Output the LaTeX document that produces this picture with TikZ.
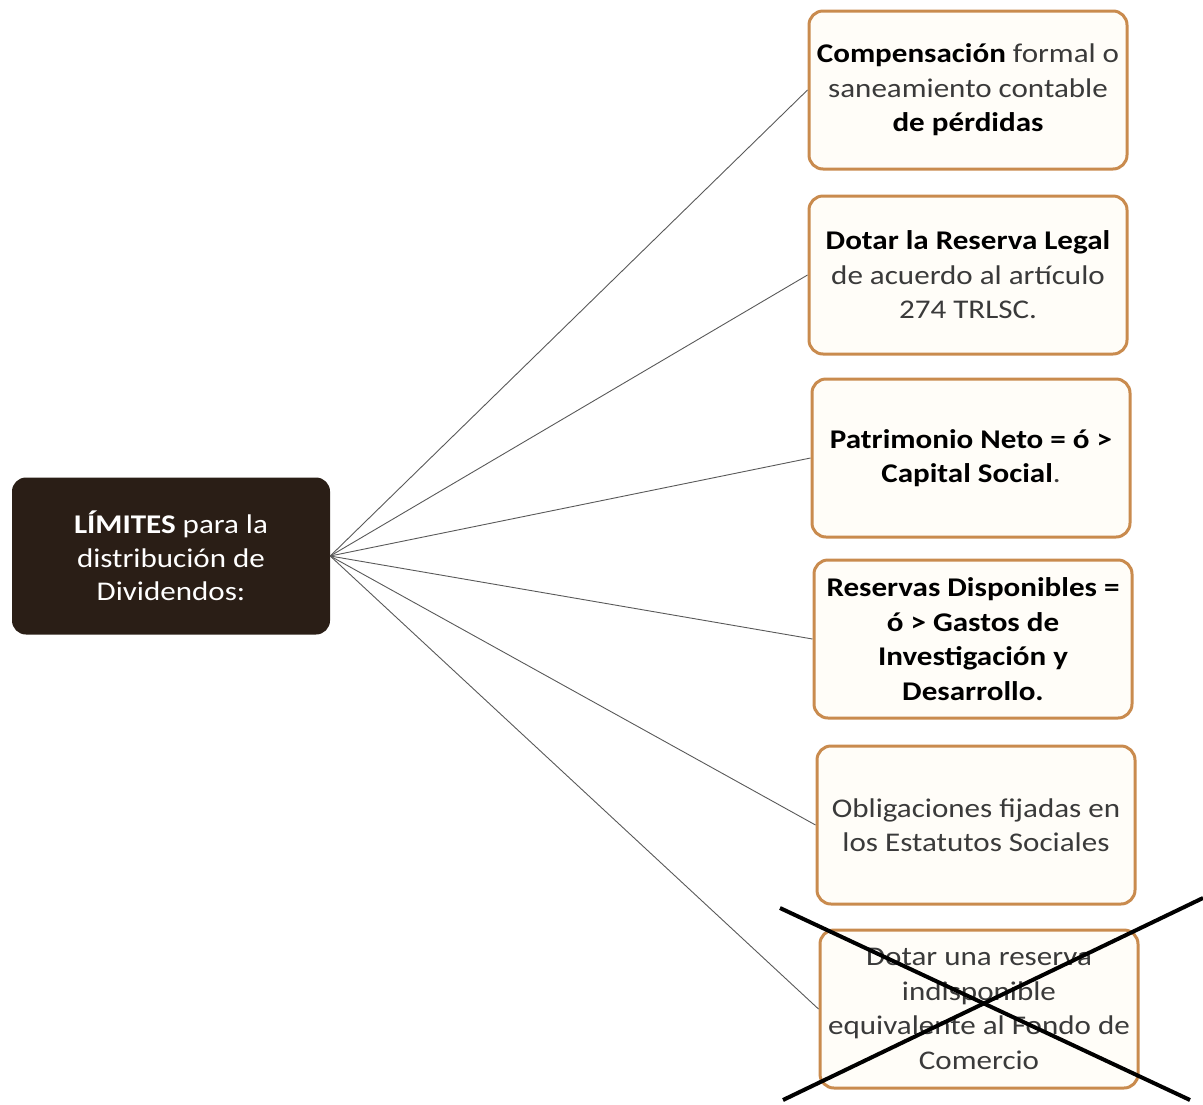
\documentclass[tikz,border=0pt]{standalone}
\usepackage{fontspec}
\setmainfont{Carlito}[FakeStretch=1.15]
\definecolor{boxline}{HTML}{C98B4E}
\definecolor{boxfill}{HTML}{FFFDF8}
\definecolor{darkbox}{HTML}{2A1E16}
\definecolor{txt}{HTML}{3A3A3A}
\begin{document}
\begin{tikzpicture}[x=1pt,y=1pt,
  limbox/.style={draw=boxline, line width=3pt, fill=boxfill, rounded corners=14pt,
    minimum width=318pt, minimum height=158pt, align=center, text=txt,
    font=\fontsize{27}{34.5}\selectfont, inner sep=2pt},
  mainbox/.style={fill=darkbox, rounded corners=14pt, minimum width=318pt, minimum height=157pt,
    align=center, text=white, font=\fontsize{27}{33.5}\selectfont},
  conn/.style={draw=black!65, line width=0.9pt},
  cross/.style={draw=black, line width=4pt}]
\useasboundingbox (0,0) rectangle (1203,-1104);
\node[mainbox] (L) at (171,-556) {\textbf{LÍMITES} para la\\distribución de\\Dividendos:};
\node[limbox] (b1) at (968,-90) {\textcolor{black}{\textbf{Compensación}} formal o\\saneamiento contable\\\textcolor{black}{\textbf{de pérdidas}}};
\node[limbox] (b2) at (968,-275) {\textcolor{black}{\textbf{Dotar la Reserva Legal}}\\de acuerdo al artículo\\274 TRLSC.};
\node[limbox] (b3) at (971,-458) {\textcolor{black}{\textbf{Patrimonio Neto = ó >}}\\\textcolor{black}{\textbf{Capital Social}}.};
\node[limbox] (b4) at (973,-639) {\textcolor{black}{\textbf{Reservas Disponibles =}}\\\textcolor{black}{\textbf{ó > Gastos de}}\\\textcolor{black}{\textbf{Investigación y}}\\\textcolor{black}{\textbf{Desarrollo.}}};
\node[limbox] (b5) at (976,-825) {Obligaciones fijadas en\\los Estatutos Sociales};
\node[limbox] (b6) at (979,-1009) {Dotar una reserva\\indisponible\\equivalente al Fondo de\\Comercio};
\foreach \b in {b1,b2,b3,b4,b5,b6}
  \draw[conn] (L.east) -- (\b.west);
\coordinate (x1) at (780,-908);
\coordinate (x2) at (1190,-1100);
\coordinate (x3) at (1203,-898);
\coordinate (x4) at (783,-1100);
\draw[cross] (x1) -- (x2);
\draw[cross] (x3) -- (x4);
\end{tikzpicture}
\end{document}
